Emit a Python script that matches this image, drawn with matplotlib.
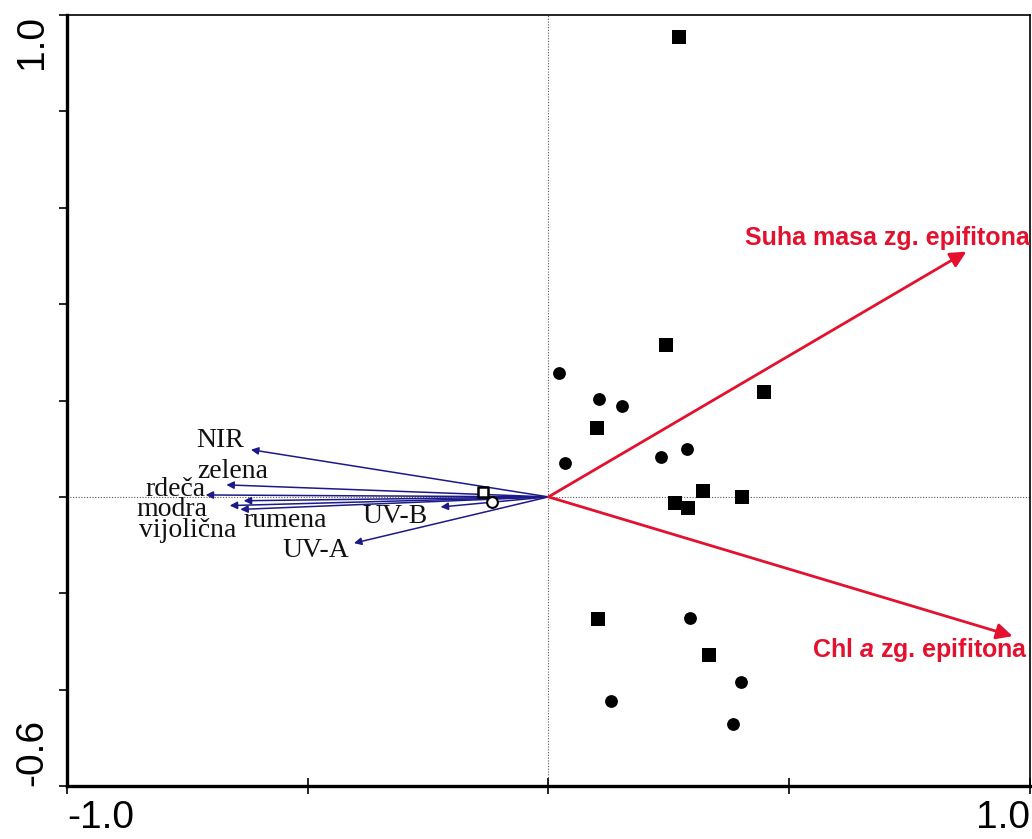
import matplotlib
matplotlib.use("Agg")
import matplotlib.pyplot as plt

# Sample scores
sq_x = [0.272, 0.245, 0.447, 0.100, 0.322, 0.401, 0.262, 0.289, 0.102, 0.334]
sq_y = [0.954, 0.316, 0.218, 0.143, 0.012, 0.000, -0.012, -0.023, -0.254, -0.328]
ci_x = [0.021, 0.104, 0.152, 0.035, 0.233, 0.287, 0.295, 0.399, 0.129, 0.384]
ci_y = [0.258, 0.204, 0.189, 0.071, 0.083, 0.100, -0.252, -0.385, -0.424, -0.472]

# Centroids (hollow)
hsq = (-0.135, 0.010)
hci = (-0.118, -0.010)

# Response variable arrows (red)
resp_names = ["Suha masa zg. epifitona", "Chl $\\mathbf{\\mathit{a}}$ zg. epifitona"]
resp_x = [0.868, 0.964]
resp_y = [0.509, -0.289]

# Explanatory variable arrows (blue)
env_names = ["NIR", "zelena", "rdeča", "rumena", "modra", "vijolična", "UV-B", "UV-A"]
env_x = [-0.618, -0.669, -0.712, -0.633, -0.662, -0.640, -0.224, -0.404]
env_y = [0.098, 0.025, 0.004, -0.008, -0.018, -0.026, -0.021, -0.096]
# label anchor positions (data coords)
env_lx = [-0.681, -0.656, -0.775, -0.546, -0.783, -0.750, -0.318, -0.484]
env_ly = [0.118, 0.052, 0.016, -0.048, -0.027, -0.070, -0.040, -0.112]

# tick labels
x_ticks = [-1.0, -0.5, 0.0, 0.5, 1.0]
x_ticklabels = ["-1.0", "", "", "", "1.0"]
y_ticks = [-0.6, -0.4, -0.2, 0.0, 0.2, 0.4, 0.6, 0.8, 1.0]
y_ticklabels = ["-0.6", "", "", "", "", "", "", "", "1.0"]

RED = "#E3102E"
BLUE = "#1C1A8A"

plt.rcParams["mathtext.fontset"] = "custom"
plt.rcParams["mathtext.it"] = "Liberation Sans:italic:bold"
plt.rcParams["mathtext.bf"] = "Liberation Sans:bold"

fig = plt.figure(figsize=(10.32, 8.39), dpi=100)
ax = fig.add_axes([0.0649, 0.0632, 0.9331, 0.9188])
ax.set_xlim(-1.0, 1.0)
ax.set_ylim(-0.6, 1.0)

ax.axhline(0, color="#555555", lw=0.8, ls=(0, (1, 1.5)), zorder=1)
ax.axvline(0, color="#555555", lw=0.8, ls=(0, (1, 1.5)), zorder=1)

# blue arrows
for x, y in zip(env_x, env_y):
    ax.annotate("", xy=(x, y), xytext=(0, 0),
                arrowprops=dict(arrowstyle="-|>", color=BLUE, lw=1.1,
                                mutation_scale=11, shrinkA=0, shrinkB=0),
                zorder=3)
for name, x, y in zip(env_names, env_lx, env_ly):
    ax.text(x, y, name, family="Liberation Serif", fontsize=20, color="#111111",
            ha="center", va="center", zorder=4)

# red arrows
for x, y in zip(resp_x, resp_y):
    ax.annotate("", xy=(x, y), xytext=(0, 0),
                arrowprops=dict(arrowstyle="-|>", color=RED, lw=2.0,
                                mutation_scale=24, shrinkA=0, shrinkB=0),
                zorder=3)
ax.text(1.0, 0.537, resp_names[0], family="Liberation Sans", fontweight="bold",
        fontsize=18, color=RED, ha="right", va="center")
ax.text(0.996, -0.317, resp_names[1], family="Liberation Sans", fontweight="bold",
        fontsize=18, color=RED, ha="right", va="center")

# points
ax.scatter(sq_x, sq_y, marker="s", s=90, color="black", zorder=5, linewidths=0)
ax.scatter(ci_x, ci_y, marker="o", s=85, color="black", zorder=5, linewidths=0)
ax.scatter([hsq[0]], [hsq[1]], marker="s", s=60, facecolor="white", edgecolor="black",
           linewidths=1.8, zorder=6)
ax.scatter([hci[0]], [hci[1]], marker="o", s=60, facecolor="white", edgecolor="black",
           linewidths=1.5, zorder=6)

# axes styling
for side in ["left", "bottom"]:
    ax.spines[side].set_linewidth(2.4)
for side in ["top", "right"]:
    ax.spines[side].set_linewidth(1.2)

ax.set_xticks(x_ticks)
ax.set_xticklabels(x_ticklabels)
ax.set_yticks(y_ticks)
ax.set_yticklabels(y_ticklabels)
ax.tick_params(axis="x", direction="inout", length=12, width=1.2, pad=4, labelsize=28)
ax.tick_params(axis="y", direction="out", length=6, width=1.2, pad=6, labelsize=28)
for lab in ax.get_xticklabels():
    lab.set_family("Liberation Sans")
xl = ax.get_xticklabels()
xl[0].set_ha("left")
xl[-1].set_ha("right")
for lab in ax.get_yticklabels():
    lab.set_family("Liberation Sans")
    lab.set_rotation(90)
    lab.set_va("center")
yl = ax.get_yticklabels()
yl[0].set_va("bottom")
yl[-1].set_va("top")

fig.savefig("out.png", dpi=100)
